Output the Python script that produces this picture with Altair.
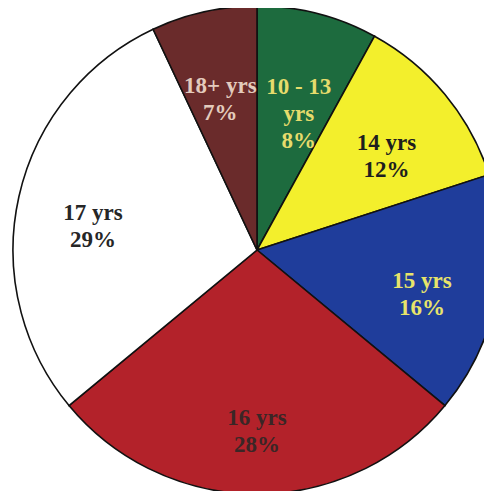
import altair as alt
import pandas as pd

categories = ["10 - 13 yrs", "14 yrs", "15 yrs", "16 yrs", "17 yrs", "18+ yrs"]
label_names = ["10 - 13\nyrs", "14 yrs", "15 yrs", "16 yrs", "17 yrs", "18+ yrs"]
percents = [8, 12, 16, 28, 29, 7]
slice_colors = ["#1d6b3e", "#f3ef2c", "#1f3d9b", "#b3222a", "#ffffff", "#6a2b2b"]
text_colors = ["#e6dc6c", "#1e1e1e", "#e8e46a", "#3a2626", "#262626", "#e3cbbd"]

df = pd.DataFrame({
    "category": categories,
    "value": percents,
    "idx": list(range(len(categories))),
    "label": [f"{n}\n{v}%" for n, v in zip(label_names, percents)],
})

cx, cy, R = 249, 242, 244

base = alt.Chart(df).encode(
    theta=alt.Theta("value:Q", stack=True),
    order=alt.Order("idx:Q"),
)

pie = base.mark_arc(stroke="#111111", strokeWidth=1.6).encode(
    color=alt.Color("category:N", scale=alt.Scale(domain=categories, range=slice_colors), legend=None),
    radius=alt.value(R),
    x=alt.value(cx),
    y=alt.value(cy),
)

labels = base.mark_text(
    font="Liberation Serif",
    fontWeight="bold",
    fontSize=23,
    lineBreak="\n",
    lineHeight=27,
    align="center",
    baseline="middle",
).encode(
    text="label:N",
    color=alt.Color("category:N", scale=alt.Scale(domain=categories, range=text_colors), legend=None),
    radius=alt.value(168),
    x=alt.value(cx),
    y=alt.value(cy),
)

chart = alt.layer(pie, labels).resolve_scale(color="independent").properties(
    width=476,
    height=483,
    autosize=alt.AutoSizeParams(type="none"),
    padding=0,
    background="#ffffff",
).configure_view(stroke=None)

chart.save("out.html", embed_options={"renderer": "svg", "actions": False})
